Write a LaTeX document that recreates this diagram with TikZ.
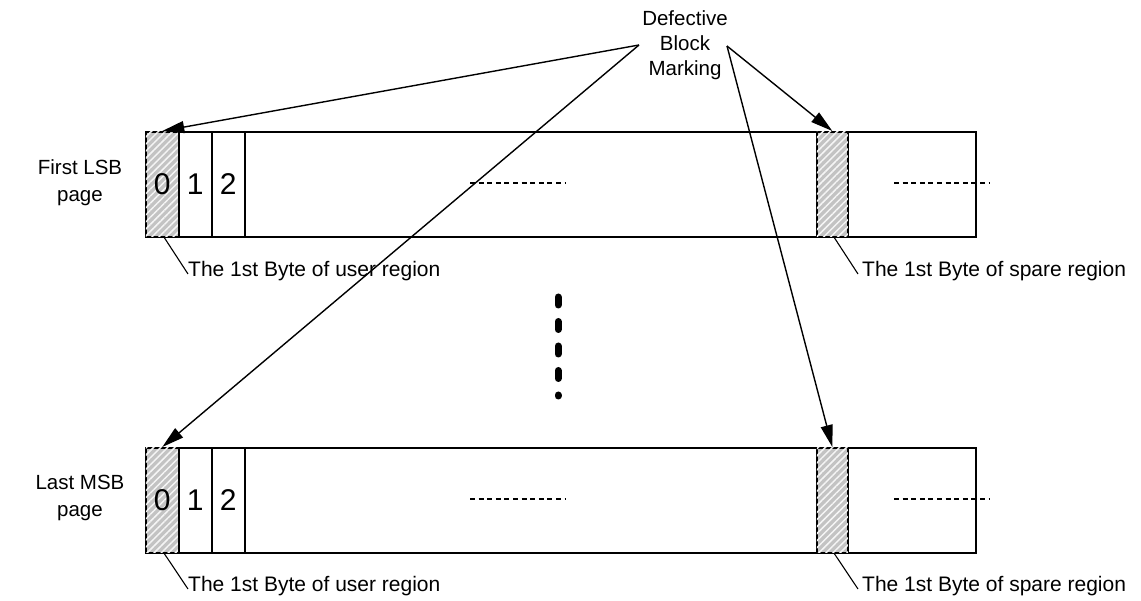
\documentclass[tikz,border=0pt]{standalone}
\usepackage{fontspec}
\setmainfont{Liberation Sans}
\usetikzlibrary{arrows.meta,patterns.meta}
\begin{document}
\begin{tikzpicture}[x=1pt,y=-1pt,
  bar/.style={draw, line width=1.6pt, minimum width=830pt, minimum height=105pt, inner sep=0pt, anchor=north west},
  cell/.style={draw, line width=1.6pt, minimum width=33pt, minimum height=105pt, inner sep=0pt, anchor=north west, font=\fontsize{30}{32}\selectfont},
  hatch/.style={cell, fill={rgb,255:red,195;green,195;blue,195},
    postaction={pattern={Lines[angle=45,distance=5pt,line width=1.5pt]}, pattern color=white!92!gray}},
  sidelabel/.style={align=center, font=\fontsize{20.5}{27}\selectfont},
  note/.style={anchor=west, inner sep=0pt, font=\fontsize{21}{23}\selectfont},
  leader/.style={line width=1.1pt},
  marker/.style={line width=1.4pt, -{Triangle[length=22pt,width=12pt]}},
  dots/.style={line width=2.4pt, dash pattern=on 5pt off 3.6pt},
]
\useasboundingbox (0,0) rectangle (1141,601);

% page row: First LSB page
\node[bar] (top) at (145,131) {};
\node[hatch] (tu0) at (145,131) {0};
\node[cell] (tu1) at (178,131) {1};
\node[cell] (tu2) at (211,131) {2};
\node[hatch, minimum width=31pt] (ts) at (816,131) {};
\node[sidelabel] (tlab) at (80,183) {First LSB\\page};
\coordinate (td1) at (470,183);
\coordinate (td2) at (566,183);
\coordinate (td3) at (894,183);
\coordinate (td4) at (990,183);
\draw[dots] (td1) -- (td2);
\draw[dots] (td3) -- (td4);

% page row: Last MSB page
\node[bar] (bot) at (145,447) {};
\node[hatch] (bu0) at (145,447) {0};
\node[cell] (bu1) at (178,447) {1};
\node[cell] (bu2) at (211,447) {2};
\node[hatch, minimum width=31pt] (bs) at (816,447) {};
\node[sidelabel] (blab) at (80,498) {Last MSB\\page};
\coordinate (bd1) at (470,499);
\coordinate (bd2) at (566,499);
\coordinate (bd3) at (894,499);
\coordinate (bd4) at (990,499);
\draw[dots] (bd1) -- (bd2);
\draw[dots] (bd3) -- (bd4);

% notes under the marked bytes
\node[note] (tun) at (188,271) {The 1st Byte of user region};
\node[note] (tsn) at (862,271) {The 1st Byte of spare region};
\node[note] (bun) at (188,586) {The 1st Byte of user region};
\node[note] (bsn) at (862,586) {The 1st Byte of spare region};
\draw[leader] ([xshift=2pt]tu0.south) -- ([yshift=-3pt]tun.west);
\draw[leader] ([xshift=2pt]ts.south) -- ([xshift=-4pt,yshift=-3pt]tsn.west);
\draw[leader] ([xshift=2pt]bu0.south) -- ([yshift=-3pt]bun.west);
\draw[leader] ([xshift=2pt]bs.south) -- ([xshift=-4pt,yshift=-3pt]bsn.west);

% vertical ellipsis between the rows
\coordinate (e1) at (558,297);
\coordinate (e2) at (558,396);
\draw[line width=7pt, line cap=round, dash pattern=on 8pt off 16.5pt] (e1) -- (e2);

% defective block marking callout
\node[align=center, font=\fontsize{20.5}{25}\selectfont] (dbm) at (685,45) {Defective\\Block\\Marking};
\coordinate (dl) at (639,45);
\coordinate (dr) at (727,46);
\draw[marker] (dl) -- (tu0.north);
\draw[marker] (dl) -- (bu0.north);
\draw[marker] (dr) -- (ts.north);
\draw[marker] (dr) -- (bs.north);
\end{tikzpicture}
\end{document}
